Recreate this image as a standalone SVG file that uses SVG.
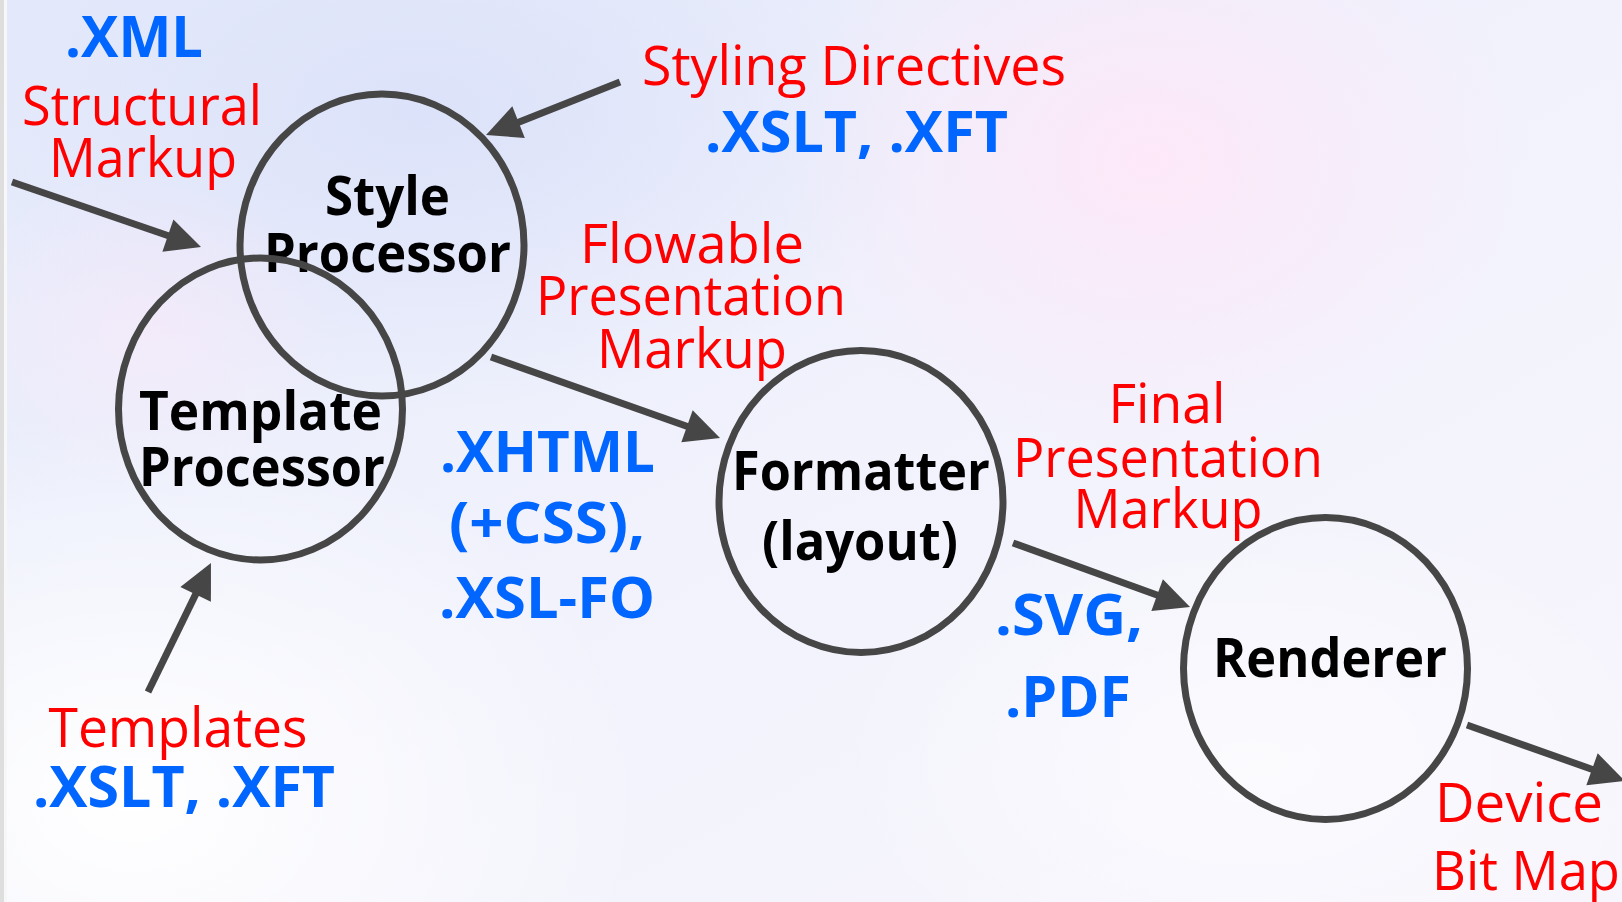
<svg xmlns="http://www.w3.org/2000/svg" width="1622" height="902" viewBox="0 0 1622 902">
  <style>
    .node { fill: none; stroke: #464646; stroke-width: 7; }
    .conn { stroke: #464646; stroke-width: 7; fill: none; marker-end: url(#head); }
    .red { font-family: "Open Sans", "Liberation Sans", sans-serif; font-size: 55px; fill: #ff0000; text-anchor: middle; }
    .blue { font-family: "Open Sans", "Liberation Sans", sans-serif; font-size: 57px; font-weight: 700; fill: #0066ff; text-anchor: middle; }
    .lbl { font-family: "Open Sans", "Liberation Sans", sans-serif; font-size: 53px; font-weight: 700; fill: #000000; text-anchor: middle; }
  </style>
  <defs>
    <marker id="head" markerUnits="userSpaceOnUse" markerWidth="36" markerHeight="36" refX="2" refY="17" orient="auto" overflow="visible">
      <path d="M0,0 L35,17 L0,34 z" fill="#464646"/>
    </marker>
    <linearGradient id="bgBase" x1="0" y1="0" x2="1" y2="1">
      <stop offset="0" stop-color="#e4eafb"/>
      <stop offset="0.5" stop-color="#f1f2fc"/>
      <stop offset="1" stop-color="#f8f6fd"/>
    </linearGradient>
    <radialGradient id="bgBlue" cx="0.5" cy="0.5" r="0.5">
      <stop offset="0" stop-color="#dce2f9" stop-opacity="1"/>
      <stop offset="1" stop-color="#dce2f9" stop-opacity="0"/>
    </radialGradient>
    <radialGradient id="bgPink" cx="0.5" cy="0.5" r="0.5">
      <stop offset="0" stop-color="#fde8f8" stop-opacity="1"/>
      <stop offset="1" stop-color="#fde8f8" stop-opacity="0"/>
    </radialGradient>
    <radialGradient id="bgWhite" cx="0.5" cy="0.5" r="0.5">
      <stop offset="0" stop-color="#ffffff" stop-opacity="1"/>
      <stop offset="1" stop-color="#ffffff" stop-opacity="0"/>
    </radialGradient>
  </defs>

  <!-- background -->
  <rect x="0" y="0" width="1622" height="902" fill="url(#bgBase)"/>
  <ellipse cx="420" cy="110" rx="520" ry="300" fill="url(#bgBlue)"/>
  <ellipse cx="1150" cy="160" rx="380" ry="300" fill="url(#bgPink)"/>
  <ellipse cx="130" cy="800" rx="520" ry="380" fill="url(#bgWhite)"/>
  <ellipse cx="1250" cy="760" rx="420" ry="260" fill="url(#bgWhite)" opacity="0.6"/>
  <ellipse cx="150" cy="330" rx="200" ry="160" fill="url(#bgPink)" opacity="0.5"/>
  <rect x="0" y="0" width="4" height="902" fill="#dedede"/>
  <rect x="4" y="0" width="3" height="902" fill="#f7f7f7"/>

  <!-- connectors -->
  <g id="connectors">
    <line class="conn" x1="12" y1="182" x2="169.8" y2="236.2"/>
    <line class="conn" x1="620" y1="82" x2="516.7" y2="122.9"/>
    <line class="conn" x1="148" y1="692" x2="196.5" y2="592.6"/>
    <line class="conn" x1="491" y1="357" x2="688.9" y2="427"/>
    <line class="conn" x1="1013" y1="543" x2="1159" y2="595.8"/>
    <line class="conn" x1="1467" y1="725" x2="1593.9" y2="770"/>
  </g>

  <!-- nodes -->
  <g id="style-processor">
    <ellipse class="node" cx="382" cy="245" rx="142" ry="151"/>
    <text class="lbl" x="387.5" y="215" textLength="125" lengthAdjust="spacingAndGlyphs">Style</text>
    <text class="lbl" x="387.5" y="272" textLength="247" lengthAdjust="spacingAndGlyphs">Processor</text>
  </g>
  <g id="template-processor">
    <ellipse class="node" cx="260.5" cy="409" rx="142" ry="151"/>
    <text class="lbl" x="260.5" y="430" textLength="243" lengthAdjust="spacingAndGlyphs">Template</text>
    <text class="lbl" x="262" y="486" textLength="246" lengthAdjust="spacingAndGlyphs">Processor</text>
  </g>
  <g id="formatter">
    <ellipse class="node" cx="861" cy="501.5" rx="142" ry="151"/>
    <text class="lbl" x="861" y="490" textLength="258" lengthAdjust="spacingAndGlyphs">Formatter</text>
    <text class="lbl" x="860" y="560" textLength="196" lengthAdjust="spacingAndGlyphs">(layout)</text>
  </g>
  <g id="renderer">
    <ellipse class="node" cx="1325.5" cy="668.5" rx="142" ry="151"/>
    <text class="lbl" x="1330" y="677" textLength="234" lengthAdjust="spacingAndGlyphs">Renderer</text>
  </g>

  <!-- annotations -->
  <g id="input-label">
    <text class="blue" x="134" y="57" textLength="138" lengthAdjust="spacingAndGlyphs">.XML</text>
    <text class="red" x="142" y="125" textLength="240" lengthAdjust="spacingAndGlyphs">Structural</text>
    <text class="red" x="143" y="177" textLength="188" lengthAdjust="spacingAndGlyphs">Markup</text>
  </g>
  <g id="styling-label">
    <text class="red" x="854" y="85" textLength="424" lengthAdjust="spacingAndGlyphs">Styling Directives</text>
    <text class="blue" x="856.5" y="152" textLength="303" lengthAdjust="spacingAndGlyphs">.XSLT, .XFT</text>
  </g>
  <g id="flowable-label">
    <text class="red" x="692" y="263" textLength="224" lengthAdjust="spacingAndGlyphs">Flowable</text>
    <text class="red" x="691" y="315" textLength="310" lengthAdjust="spacingAndGlyphs">Presentation</text>
    <text class="red" x="692" y="368" textLength="190" lengthAdjust="spacingAndGlyphs">Markup</text>
    <text class="blue" x="547.5" y="472" textLength="215" lengthAdjust="spacingAndGlyphs">.XHTML</text>
    <text class="blue" x="547" y="543" textLength="196" lengthAdjust="spacingAndGlyphs">(+CSS),</text>
    <text class="blue" x="547" y="618" textLength="216" lengthAdjust="spacingAndGlyphs">.XSL-FO</text>
  </g>
  <g id="final-label">
    <text class="red" x="1167" y="423" textLength="117" lengthAdjust="spacingAndGlyphs">Final</text>
    <text class="red" x="1168" y="477" textLength="310" lengthAdjust="spacingAndGlyphs">Presentation</text>
    <text class="red" x="1168" y="528" textLength="189" lengthAdjust="spacingAndGlyphs">Markup</text>
    <text class="blue" x="1069" y="635" textLength="148" lengthAdjust="spacingAndGlyphs">.SVG,</text>
    <text class="blue" x="1068" y="717" textLength="126" lengthAdjust="spacingAndGlyphs">.PDF</text>
  </g>
  <g id="templates-label">
    <text class="red" x="178" y="747" textLength="259" lengthAdjust="spacingAndGlyphs">Templates</text>
    <text class="blue" x="184" y="807" textLength="302" lengthAdjust="spacingAndGlyphs">.XSLT, .XFT</text>
  </g>
  <g id="output-label">
    <text class="red" x="1519" y="822" textLength="168" lengthAdjust="spacingAndGlyphs">Device</text>
    <text class="red" x="1526" y="890" textLength="188" lengthAdjust="spacingAndGlyphs">Bit Map</text>
  </g>
</svg>
